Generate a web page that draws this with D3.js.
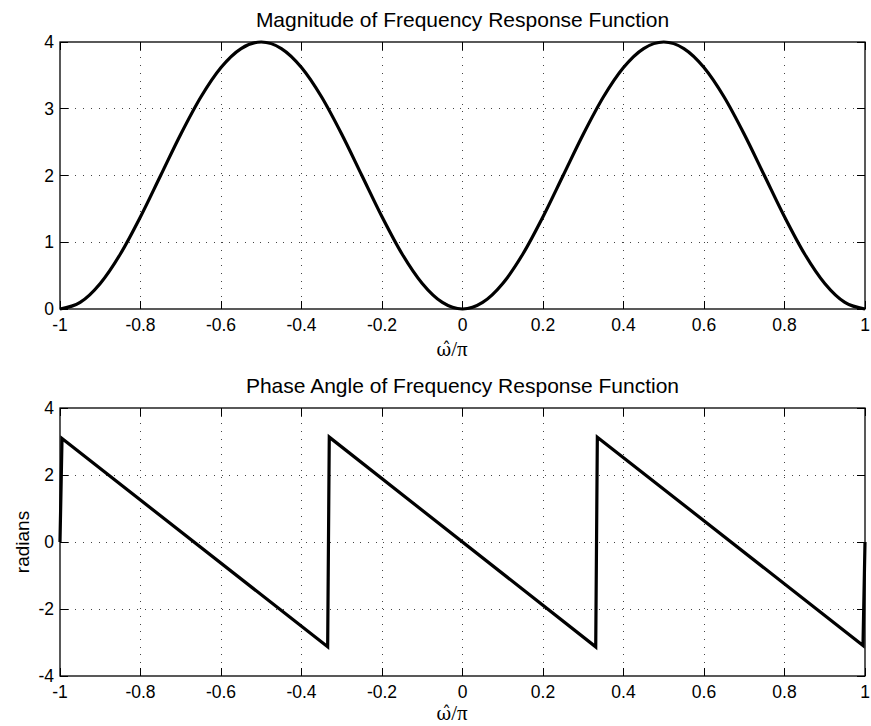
<!DOCTYPE html>
<html>
<head>
<meta charset="utf-8">
<script src="https://cdn.jsdelivr.net/npm/d3@7"></script>
<style>
  body { margin: 0; background: #fff; }
  svg { display: block; }
  .tick-label { font-family: "Liberation Sans", Arial, Helvetica, sans-serif; font-size: 17.5px; fill: #000; }
  .title { font-family: "Liberation Sans", Arial, Helvetica, sans-serif; font-size: 21px; fill: #000; }
  .ylabel { font-family: "Liberation Sans", Arial, Helvetica, sans-serif; font-size: 19px; fill: #000; }
  .xlabel { font-family: "Liberation Serif", "Times New Roman", serif; font-size: 21px; fill: #000; }
  .omega-hat { font-family: "DejaVu Serif", serif; font-size: 18px; }
</style>
</head>
<body>
<svg id="chart" width="871" height="726"></svg>
<script>
// omega-hat / pi sample positions
const omegaX = [-1, -0.95, -0.9, -0.85, -0.8, -0.75, -0.7, -0.65, -0.6, -0.55, -0.5,
  -0.45, -0.4, -0.35, -0.3, -0.25, -0.2, -0.15, -0.1, -0.05, 0,
  0.05, 0.1, 0.15, 0.2, 0.25, 0.3, 0.35, 0.4, 0.45, 0.5,
  0.55, 0.6, 0.65, 0.7, 0.75, 0.8, 0.85, 0.9, 0.95, 1]
// magnitude |H|
const magnitude = [0, 0.098, 0.382, 0.824, 1.382, 2.0, 2.618, 3.176, 3.618, 3.902, 4,
  3.902, 3.618, 3.176, 2.618, 2.0, 1.382, 0.824, 0.382, 0.098, 0,
  0.098, 0.382, 0.824, 1.382, 2.0, 2.618, 3.176, 3.618, 3.902, 4,
  3.902, 3.618, 3.176, 2.618, 2.0, 1.382, 0.824, 0.382, 0.098, 0]
// phase (radians): corner points of the sawtooth
const phaseX = [-1, -0.995, -0.335, -0.331, 0.331, 0.335, 0.995, 1]
const phase = [0, 3.09, -3.13, 3.13, -3.13, 3.13, -3.09, 0]

const xTicks = [-1, -0.8, -0.6, -0.4, -0.2, 0, 0.2, 0.4, 0.6, 0.8, 1]
const magTicks = [0, 1, 2, 3, 4]
const phaseTicks = [-4, -2, 0, 2, 4]

const titles = ['Magnitude of Frequency Response Function', 'Phase Angle of Frequency Response Function']
const yLabelPhase = 'radians'

const svg = d3.select('#chart')
const margin = { left: 60, right: 865 }

// omega with combining circumflex, then "/pi", in one text element
function drawXLabel(g, cx, baseline) {
  const t = g.append('text').attr('class', 'xlabel')
    .attr('x', cx).attr('y', baseline)
    .attr('text-anchor', 'middle')
  t.append('tspan').attr('class', 'omega-hat').text('\u03C9\u0302')
  t.append('tspan').text('/\u03C0')
}

function drawPanel(top, bottom, yDomain, yTicks, xs, ys, curve, title, yLabel, xLabelGap) {
  const x = d3.scaleLinear([-1, 1], [margin.left, margin.right])
  const y = d3.scaleLinear(yDomain, [bottom, top])
  const g = svg.append('g')
  const tickLen = 8

  // grid
  g.append('g').selectAll('line')
    .data(xTicks.slice(1, -1))
    .join('line')
    .attr('x1', d => x(d)).attr('x2', d => x(d))
    .attr('y1', top).attr('y2', bottom)
    .attr('stroke', '#444').attr('stroke-width', 1)
    .attr('stroke-dasharray', '1,6.7')
    .attr('shape-rendering', 'crispEdges')
  g.append('g').selectAll('line')
    .data(yTicks.slice(1, -1))
    .join('line')
    .attr('y1', d => y(d)).attr('y2', d => y(d))
    .attr('x1', margin.left).attr('x2', margin.right)
    .attr('stroke', '#444').attr('stroke-width', 1)
    .attr('stroke-dasharray', '1,6.7')
    .attr('shape-rendering', 'crispEdges')

  // ticks on all four sides, pointing inward
  const tk = g.append('g').attr('stroke', '#000').attr('stroke-width', 1).attr('shape-rendering', 'crispEdges')
  xTicks.forEach(d => {
    tk.append('line').attr('x1', x(d)).attr('x2', x(d)).attr('y1', bottom).attr('y2', bottom - tickLen)
    tk.append('line').attr('x1', x(d)).attr('x2', x(d)).attr('y1', top).attr('y2', top + tickLen)
  })
  yTicks.forEach(d => {
    tk.append('line').attr('y1', y(d)).attr('y2', y(d)).attr('x1', margin.left).attr('x2', margin.left + tickLen)
    tk.append('line').attr('y1', y(d)).attr('y2', y(d)).attr('x1', margin.right).attr('x2', margin.right - tickLen)
  })

  // box
  g.append('rect')
    .attr('x', margin.left).attr('y', top)
    .attr('width', margin.right - margin.left).attr('height', bottom - top)
    .attr('fill', 'none').attr('stroke', '#000').attr('stroke-width', 1.3)

  // tick labels (plain hyphen minus like the original)
  g.append('g').selectAll('text')
    .data(xTicks)
    .join('text')
    .attr('class', 'tick-label')
    .attr('x', d => x(d)).attr('y', bottom + 22)
    .attr('text-anchor', 'middle')
    .text(d => String(d))
  g.append('g').selectAll('text')
    .data(yTicks)
    .join('text')
    .attr('class', 'tick-label')
    .attr('x', margin.left - 6).attr('y', d => y(d) + 6)
    .attr('text-anchor', 'end')
    .text(d => String(d))

  // curve
  const line = d3.line().x(d => x(d[0])).y(d => y(d[1])).curve(curve)
  g.append('path')
    .datum(d3.zip(xs, ys))
    .attr('d', line)
    .attr('fill', 'none')
    .attr('stroke', '#000')
    .attr('stroke-width', 3.2)
    .attr('stroke-linejoin', 'miter')

  // labels
  g.append('text').attr('class', 'title')
    .attr('x', (margin.left + margin.right) / 2).attr('y', top - 15)
    .attr('text-anchor', 'middle').text(title)
  drawXLabel(g, 452, bottom + xLabelGap)
  if (yLabel) {
    g.append('text').attr('class', 'ylabel')
      .attr('transform', `translate(29,${(top + bottom) / 2}) rotate(-90)`)
      .attr('text-anchor', 'middle').text(yLabel)
  }
}

drawPanel(42, 309, [0, 4], magTicks, omegaX, magnitude, d3.curveMonotoneX, titles[0], null, 47)
drawPanel(408, 676, [-4, 4], phaseTicks, phaseX, phase, d3.curveLinear, titles[1], yLabelPhase, 44)
</script>
</body>
</html>
